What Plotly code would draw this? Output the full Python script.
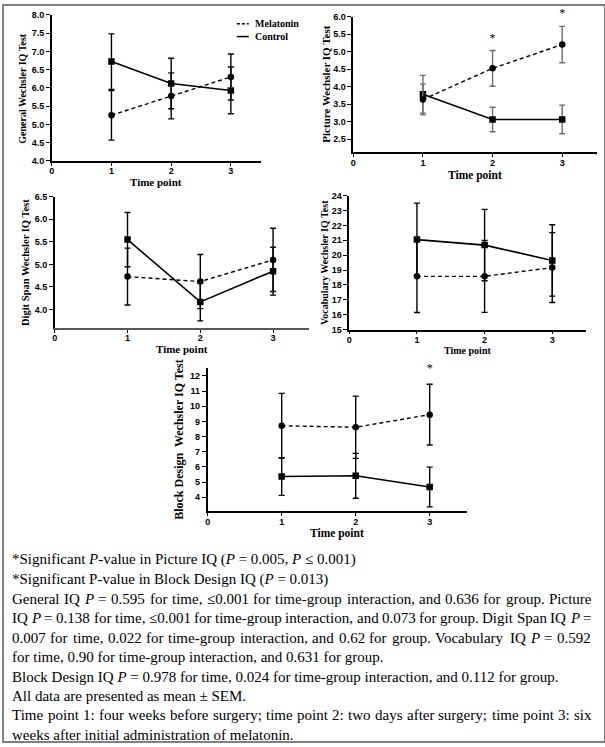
import math
import re
import plotly.graph_objects as go

W, H = 605, 747

time_points = [1, 2, 3]
x_ticks = [0, 1, 2, 3]

general_mel = [5.25, 5.78, 6.30]
general_mel_sem = [0.68, 0.63, 0.63]
general_ctl = [6.72, 6.12, 5.93]
general_ctl_sem = [0.76, 0.69, 0.64]

picture_mel = [3.63, 4.52, 5.20]
picture_mel_sem = [0.44, 0.51, 0.52]
picture_ctl = [3.78, 3.06, 3.06]
picture_ctl_sem = [0.54, 0.35, 0.41]

digit_mel = [4.73, 4.62, 5.10]
digit_mel_sem = [0.63, 0.60, 0.70]
digit_ctl = [5.55, 4.17, 4.85]
digit_ctl_sem = [0.60, 0.42, 0.53]

vocab_mel = [18.58, 18.58, 19.17]
vocab_mel_sem = [2.43, 2.42, 2.35]
vocab_ctl = [21.05, 20.68, 19.65]
vocab_ctl_sem = [2.45, 2.40, 2.40]

block_mel = [8.72, 8.62, 9.45]
block_mel_sem = [2.13, 2.05, 2.00]
block_ctl = [5.37, 5.42, 4.68]
block_ctl_sem = [1.24, 1.48, 1.31]

picture_star_t = [2, 3]
picture_star_y = [5.36, 6.07]
block_star_t = [3]
block_star_y = [12.45]

y_titles = ["General Wechsler IQ Test", "Picture Wechsler IQ Test",
            "Digit Span Wechsler IQ Test", "Vocabulary Wechsler IQ Test",
            "Block Design  Wechsler IQ Test"]

# (text, justified?)
caption_lines = [
    ("*Significant <i>P</i>-value in Picture IQ (<i>P</i> = 0.005, <i>P</i> \u2264 0.001)", False),
    ("*Significant P-value in Block Design IQ (<i>P</i> = 0.013)", False),
    ("General IQ <i>P</i> = 0.595 for time, \u22640.001 for time-group interaction, and 0.636 for group. Picture", True),
    ("IQ <i>P</i> = 0.138 for time, \u22640.001 for time-group interaction, and 0.073 for group. Digit Span IQ <i>P</i> =", True),
    ("0.007 for time, 0.022 for time-group interaction, and 0.62 for group. Vocabulary IQ <i>P</i> = 0.592", True),
    ("for time, 0.90 for time-group interaction, and 0.631 for group.", False),
    ("Block Design IQ <i>P</i> = 0.978 for time, 0.024 for time-group interaction, and 0.112 for group.", False),
    ("All data are presented as mean \u00b1 SEM.", False),
    ("Time point 1: four weeks before surgery; time point 2: two days after surgery; time point 3: six", True),
    ("weeks after initial administration of melatonin.", False),
]

# approximate Times (Liberation Serif) advance widths, per 1000 em
TIMES_W = {" ": 250, "!": 333, "(": 333, ")": 333, "*": 500, ",": 250, "-": 333, ".": 250,
           ":": 278, ";": 278, "=": 564, "\u2264": 549, "\u00b1": 564}
for ch in "0123456789":
    TIMES_W[ch] = 500
TIMES_W.update(dict(zip("ABCDEFGHIJKLMNOPQRSTUVWXYZ",
    [722, 667, 667, 722, 611, 556, 722, 722, 333, 389, 722, 611, 889, 722, 722, 556, 722, 667, 556, 611, 722, 722, 944, 722, 722, 611])))
TIMES_W.update(dict(zip("abcdefghijklmnopqrstuvwxyz",
    [444, 500, 444, 500, 444, 333, 500, 500, 278, 278, 500, 278, 778, 500, 500, 500, 500, 333, 389, 278, 500, 500, 722, 500, 500, 444])))


def text_width(s, size):
    italic_p = s.count("<i>P</i>")
    plain = re.sub(r"<[^>]+>", "", s)
    w = sum(TIMES_W.get(c, 500) for c in plain) + italic_p * (611 - 556)
    return w * size / 1000.0


def px(x):
    return x / W


def py(y):
    return 1 - y / H


panels = [
    dict(x0=49, x1=259, yt=10, yb=158, yr=[4.0, 8.0], dt=0.5, tx=20, ts=10, xy=179, xs=11, ec="black",
         mel=general_mel, mels=general_mel_sem, ctl=general_ctl, ctls=general_ctl_sem, fmt=".1f",
         xline="black"),
    dict(x0=352, x1=597, yt=11.7, yb=149, yr=[2.13, 6.0], dt=0.5, tx=325, ts=11, xy=173, xs=11.5, ec="#6e6e6e",
         mel=picture_mel, mels=picture_mel_sem, ctl=picture_ctl, ctls=picture_ctl_sem, fmt=".1f",
         xline="black"),
    dict(x0=52, x1=308, yt=194.3, yb=327, yr=[3.6, 6.5], dt=0.5, tx=22, ts=10.5, xy=349, xs=11, ec="black",
         mel=digit_mel, mels=digit_mel_sem, ctl=digit_ctl, ctls=digit_ctl_sem, fmt=".1f",
         xline="#5a5a5a"),
    dict(x0=348, x1=586, yt=193.3, yb=329, yr=[15, 24], dt=1, tx=323, ts=10, xy=350, xs=10, ec="black",
         mel=vocab_mel, mels=vocab_mel_sem, ctl=vocab_ctl, ctls=vocab_ctl_sem, fmt="d",
         xline="black"),
    dict(x0=205.7, x1=466, yt=368.3, yb=513, yr=[3.09, 12.5], dt=1, tx=177, ts=12, xy=536, xs=11.5, ec="black",
         mel=block_mel, mels=block_mel_sem, ctl=block_ctl, ctls=block_ctl_sem, fmt="d",
         xline="black"),
]

fig = go.Figure()
annotations = []
shapes = []

for i, p in enumerate(panels):
    n = i + 1
    xa = "x" if n == 1 else f"x{n}"
    ya = "y" if n == 1 else f"y{n}"
    xkey = "xaxis" if n == 1 else f"xaxis{n}"
    ykey = "yaxis" if n == 1 else f"yaxis{n}"

    fig.add_trace(go.Scatter(
        x=time_points, y=p["ctl"], mode="lines+markers", xaxis=xa, yaxis=ya,
        line=dict(color="black", width=1.6),
        marker=dict(symbol="square", size=6.5, color="black"),
        error_y=dict(type="data", array=p["ctls"], visible=True, color=p["ec"], thickness=1.4, width=3),
        showlegend=False))
    fig.add_trace(go.Scatter(
        x=time_points, y=p["mel"], mode="lines+markers", xaxis=xa, yaxis=ya,
        line=dict(color="black", width=1.4, dash="4px,3px"),
        marker=dict(symbol="circle", size=6.5, color="black"),
        error_y=dict(type="data", array=p["mels"], visible=True, color=p["ec"], thickness=1.4, width=3),
        showlegend=False))

    start = math.ceil(p["yr"][0] / p["dt"] - 1e-9) * p["dt"]
    vals = []
    v = start
    while v <= p["yr"][1] + 1e-9:
        vals.append(round(v, 2))
        v += p["dt"]
    fig.layout[xkey] = dict(
        domain=[px(p["x0"]), px(p["x1"])], range=[0, 3.5], anchor=ya,
        tickvals=x_ticks, ticktext=[str(t) for t in x_ticks],
        showline=True, linecolor=p["xline"], linewidth=1.8 if p["xline"] != "black" else 1.6,
        ticks="outside", ticklen=3, tickwidth=1.4, tickcolor="black", showgrid=False, zeroline=False,
        ticklabelstandoff=-2,
        tickfont=dict(family="Liberation Sans", size=9, color="black", weight="bold"))
    fig.layout[ykey] = dict(
        domain=[py(p["yb"]), py(p["yt"])], range=p["yr"], anchor=xa,
        tickvals=vals, tickformat=p["fmt"],
        showline=True, linecolor="black", linewidth=1.6, ticks="outside",
        ticklen=4, tickwidth=1.4, tickcolor="black", showgrid=False, zeroline=False,
        tickfont=dict(family="Liberation Sans", size=9, color="black", weight="bold"))

    annotations.append(dict(
        text=f"<b>{y_titles[i]}</b>", textangle=-90, xref="paper", yref="paper",
        x=px(p["tx"]), y=py((p["yt"] + p["yb"]) / 2), showarrow=False,
        xanchor="center", yanchor="middle",
        font=dict(family="Liberation Serif", size=p["ts"], color="black")))
    annotations.append(dict(
        text="<b>Time point</b>", xref="paper", yref="paper",
        x=px((p["x0"] + p["x1"]) / 2), y=py(p["xy"]), showarrow=False,
        xanchor="center", yanchor="middle", borderpad=0,
        font=dict(family="Liberation Serif", size=p["xs"], color="black")))

# hidden overlay axes for the Picture-panel stars: same scale as panel 2, extended to the figure top
p2 = panels[1]
units_per_px = (p2["yr"][1] - p2["yr"][0]) / (p2["yb"] - p2["yt"])
star_top_px = 0.5
fig.layout["xaxis6"] = dict(domain=[px(p2["x0"]), px(p2["x1"])], range=[0, 3.5], anchor="y6",
                            visible=False, fixedrange=True)
fig.layout["yaxis6"] = dict(domain=[py(p2["yb"]), py(star_top_px)],
                            range=[p2["yr"][0], p2["yr"][1] + (p2["yt"] - star_top_px) * units_per_px],
                            anchor="x6", visible=False, fixedrange=True)

star_font = dict(family="Liberation Serif", size=12, color="black")
fig.add_trace(go.Scatter(x=picture_star_t, y=picture_star_y, xaxis="x6", yaxis="y6",
                         mode="text", text=["*"] * len(picture_star_t), textposition="middle center",
                         cliponaxis=False, showlegend=False, hoverinfo="skip", textfont=star_font))
fig.add_trace(go.Scatter(x=block_star_t, y=block_star_y, xaxis="x5", yaxis="y5",
                         mode="text", text=["*"] * len(block_star_t), textposition="middle center",
                         cliponaxis=False, showlegend=False, hoverinfo="skip", textfont=star_font))

# legend (panel 1)
legend_items = [("Melatonin", "3px,2px", 19), ("Control", "solid", 32)]
for name, dash, yy in legend_items:
    shapes.append(dict(type="line", xref="paper", yref="paper", x0=px(235), x1=px(247),
                       y0=py(yy), y1=py(yy), line=dict(color="black", width=1.5, dash=dash)))
    annotations.append(dict(text=f"<b>{name}</b>", xref="paper", yref="paper", x=px(251), y=py(yy),
                            xanchor="left", yanchor="middle", showarrow=False,
                            font=dict(family="Liberation Serif", size=10, color="black")))

# caption (justified lines placed word by word)
CAP_SIZE = 15
CAP_LEFT, CAP_RIGHT = 8, 590
line_y0, line_dy = 562.5, 19.7
for k, (line, justify) in enumerate(caption_lines):
    yy = py(line_y0 + k * line_dy)
    font = dict(family="Liberation Serif", size=CAP_SIZE, color="black")
    if not justify:
        annotations.append(dict(text=line, xref="paper", yref="paper", x=px(CAP_LEFT), y=yy,
                                xanchor="left", yanchor="middle", showarrow=False, font=font,
                                borderpad=0))
        continue
    words = line.split(" ")
    widths = [text_width(wd, CAP_SIZE) for wd in words]
    gap = (CAP_RIGHT - CAP_LEFT - sum(widths)) / (len(words) - 1)
    xcur = CAP_LEFT
    for wd, ww in zip(words, widths):
        annotations.append(dict(text=wd, xref="paper", yref="paper", x=px(xcur), y=yy,
                                xanchor="left", yanchor="middle", showarrow=False, font=font,
                                borderpad=0))
        xcur += ww + gap

# outer border
shapes.append(dict(type="rect", xref="paper", yref="paper", x0=0, y0=0, x1=1, y1=1,
                   line=dict(color="#808080", width=2)))

fig.update_layout(width=W, height=H, margin=dict(l=0, r=0, t=0, b=0),
                  paper_bgcolor="white", plot_bgcolor="rgba(0,0,0,0)",
                  annotations=annotations, shapes=shapes, showlegend=False)

fig.write_html("out.html", config={"displayModeBar": False},
               post_script="document.body.style.margin='0px';document.body.style.padding='0px';"
                           "document.documentElement.style.overflow='hidden';")
